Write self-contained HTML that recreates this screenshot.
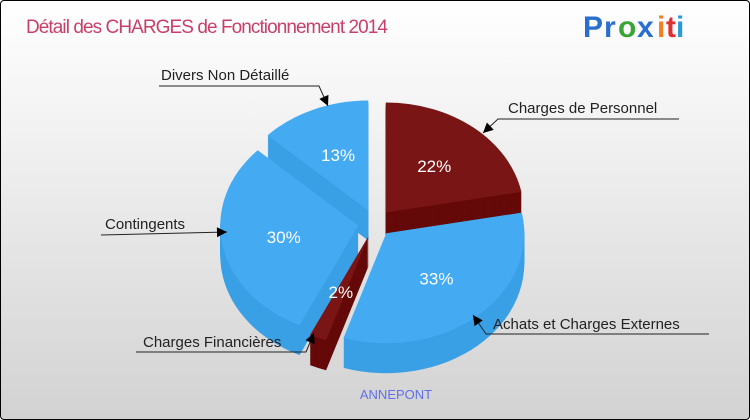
<!DOCTYPE html>
<html><head><meta charset="utf-8"><style>
html,body{margin:0;padding:0;}
#frame{position:relative;width:748px;height:418px;border:1px solid #000;border-radius:4px;overflow:hidden;background:linear-gradient(#ffffff 0%,#f0f0f0 35%,#d2d2d2 100%);font-family:"Liberation Sans",sans-serif;}
svg{position:absolute;left:0;top:0;}
</style></head><body>
<div id="frame">
<svg id="chart" width="750" height="420">
<text x="25" y="32" font-size="19" fill="#c8406a" font-family="Liberation Sans, sans-serif" textLength="362">Détail des CHARGES de Fonctionnement 2014</text>
<g font-size="30" font-weight="bold" font-family="Liberation Sans, sans-serif">
<text x="582" y="36" fill="#2a6fd0">P</text><text x="603" y="36" fill="#2a6fd0">r</text><text x="617" y="36" fill="#3aa536">o</text><text x="636" y="36" fill="#2a6fd0">x</text><text x="656" y="36" fill="#f08020">i</text><text x="665" y="36" fill="#e03030">t</text><text x="675" y="36" fill="#2a9ad0">i</text>
</g>
<g id="slices"></g>
<g id="labels" font-family="Liberation Sans, sans-serif" font-size="15" fill="#222"></g>
<text x="395" y="398" font-size="13" fill="#6070e8" text-anchor="middle">ANNEPONT</text>
</svg>
</div>
<script>
const categories = ["Charges de Personnel","Achats et Charges Externes","Charges Financières","Contingents","Divers Non Détaillé"];
const values = [22, 33, 2, 30, 13];
const colors = ["#7a1515","#44aaf2","#7a1515","#44aaf2","#44aaf2"];
const sideColors = ["#650808","#3aa0e6","#650808","#3aa0e6","#3aa0e6"];
const percentLabels = ["22%","33%","2%","30%","13%"];

const NS="http://www.w3.org/2000/svg";
const cx=374, cy=222, rx=138, ry=110, depth=30, explode=17;
const gS=document.getElementById('slices');
const total=values.reduce((a,b)=>a+b,0);
function pt(a,r,ox,oy,dy){return [cx+ox+rx*r*Math.sin(a), cy+oy+dy-ry*r*Math.cos(a)];}
function sector(a1,a2,ox,oy,dy){
  const p0=pt(0,0,ox,oy,dy), p1=pt(a1,1,ox,oy,dy), p2=pt(a2,1,ox,oy,dy);
  const large=(a2-a1)>Math.PI?1:0;
  return `M${p0[0]},${p0[1]} L${p1[0]},${p1[1]} A${rx},${ry} 0 ${large} 1 ${p2[0]},${p2[1]} Z`;
}
let acc=0; const sl=[];
values.forEach((v,i)=>{const a1=acc/total*2*Math.PI; acc+=v; const a2=acc/total*2*Math.PI; sl.push({i,a1,a2,mid:(a1+a2)/2});});
const order=sl.slice().sort((a,b)=>(-Math.cos(a.mid))-(-Math.cos(b.mid)));
order.forEach(s=>{
  const ox=explode*Math.sin(s.mid), oy=-explode*Math.cos(s.mid)*0.8;
  const g=document.createElementNS(NS,'g');
  
  
  for(let d=depth; d>0; d-=1){
    const p=document.createElementNS(NS,'path');
    p.setAttribute('d',sector(s.a1,s.a2,ox,oy,d));
    p.setAttribute('fill',sideColors[s.i]);
    g.appendChild(p);
  }
  const top=document.createElementNS(NS,'path');
  top.setAttribute('d',sector(s.a1,s.a2,ox,oy,0));
  top.setAttribute('fill',colors[s.i]);
  g.appendChild(top);
  const lp=pt(s.mid,0.55,ox,oy,0);
  const t=document.createElementNS(NS,'text');
  t.setAttribute('x',lp[0]); t.setAttribute('y',lp[1]+6);
  t.setAttribute('text-anchor','middle'); t.setAttribute('fill','#fff'); t.setAttribute('font-size','17');
  t.textContent=percentLabels[s.i];
  g.appendChild(t);
  gS.appendChild(g);
});
const gL=document.getElementById('labels');
const callouts=[
 {txt:categories[0],tx:507,ty:112,path:"M678,118 L497,118 L482,132",ax:482,ay:132,adx:15,ady:-14},
 {txt:categories[1],tx:492,ty:328,path:"M708,333 L485,333 L472,314",ax:472,ay:314,adx:13,ady:19},
 {txt:categories[2],tx:142,ty:346,path:"M135,351 L305,351 L313,332",ax:313,ay:332,adx:-8,ady:19},
 {txt:categories[3],tx:104,ty:228,path:"M100,234 L226,231",ax:226,ay:231,adx:-126,ady:3},
 {txt:categories[4],tx:160,ty:79,path:"M158,85 L318,85 L327,105",ax:327,ay:105,adx:-9,ady:-20}
];
callouts.forEach(c=>{
  const g=document.createElementNS(NS,'g');
  
  
  const t=document.createElementNS(NS,'text');
  t.setAttribute('x',c.tx); t.setAttribute('y',c.ty); t.textContent=c.txt;
  g.appendChild(t);
  const p=document.createElementNS(NS,'path');
  p.setAttribute('d',c.path); p.setAttribute('fill','none'); p.setAttribute('stroke','#222'); p.setAttribute('stroke-width','1');
  g.appendChild(p);
  const L=Math.hypot(c.adx,c.ady), ux=c.adx/L, uy=c.ady/L, s=10, w=5;
  const bx=c.ax+ux*s, by=c.ay+uy*s;
  const a=document.createElementNS(NS,'path');
  a.setAttribute('d',`M${c.ax},${c.ay} L${bx-uy*w},${by+ux*w} L${bx+uy*w},${by-ux*w} Z`);
  a.setAttribute('fill','#000');
  g.appendChild(a);
  gL.appendChild(g);
});
</script>
</body></html>
